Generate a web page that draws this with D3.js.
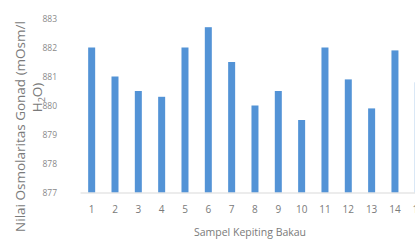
<!DOCTYPE html>
<html>
<head>
<meta charset="utf-8">
<script src="https://cdn.jsdelivr.net/npm/d3@7"></script>
<style>
  body { margin: 0; background: #fff; }
  text { font-family: "Open Sans", "Noto Sans", sans-serif; }
</style>
</head>
<body>
<div id="chart"></div>
<script>
// data
var samples = ["1","2","3","4","5","6","7","8","9","10","11","12","13","14","15"];
var osmo = [882.0, 881.0, 880.5, 880.3, 882.0, 882.7, 881.5, 880.0, 880.5, 879.5, 882.0, 880.9, 879.9, 881.9, 880.8];
var yTicks = [877, 878, 879, 880, 881, 882, 883];

var W = 415, H = 241;
var margin = {top: 18.5, left: 80, bottom: 48.5};

var svg = d3.select("#chart")
  .append("svg")
    .attr("width", W)
    .attr("height", H);

// band scale runs a bit past the right edge, like the cropped original
var x = d3.scaleBand()
  .domain(samples)
  .range([margin.left, margin.left + 15 * 23.33])
  .paddingInner(0.7)
  .paddingOuter(0.35);

var y = d3.scaleLinear()
  .domain([877, 883])
  .range([H - margin.bottom, margin.top]);

// y axis labels
var yAxis = svg.append("g")
  .attr("transform", "translate(" + (margin.left - 20) + ",0)")
  .call(d3.axisLeft(y).tickValues(yTicks).tickSize(0).tickFormat(d3.format("d")));
yAxis.select(".domain").remove();
yAxis.selectAll("text")
  .attr("fill", "#8a8a8a")
  .style("font-size", "8.5px");

// bars
svg.selectAll(".bar")
  .data(osmo)
  .enter().append("rect")
    .attr("class", "bar")
    .attr("x", function(d, i) { return x(samples[i]); })
    .attr("width", x.bandwidth())
    .attr("y", function(d) { return y(d); })
    .attr("height", function(d) { return y(877) - y(d); })
    .attr("fill", "#5393d6");

// x axis
var xAxis = svg.append("g")
  .attr("transform", "translate(0," + y(877) + ")")
  .call(d3.axisBottom(x).tickSize(0).tickPadding(13));
xAxis.select(".domain")
  .attr("stroke", "#d9d9d9")
  .attr("stroke-width", 1.2);
xAxis.selectAll("text")
  .attr("fill", "#7a7a7a")
  .style("font-size", "10px");

// axis titles
svg.append("text")
  .attr("x", 250)
  .attr("y", 236)
  .attr("text-anchor", "middle")
  .attr("fill", "#7a7a7a")
  .style("font-size", "10.5px")
  .text("Sampel Kepiting Bakau");

var yTitle = svg.append("text")
  .attr("transform", "translate(25,126.5) rotate(-90)")
  .attr("text-anchor", "middle")
  .attr("fill", "#7a7a7a")
  .style("font-size", "13.5px");
yTitle.append("tspan")
  .attr("x", 0)
  .attr("y", 0)
  .text("Nilai Osmolaritas Gonad (mOsm/l");
var l2 = yTitle.append("tspan")
  .attr("x", 29)
  .attr("dy", 16.5)
  .text("H");
l2.append("tspan").attr("dy", 3).style("font-size", "9px").text("2");
l2.append("tspan").attr("dy", -3).text("O)");
</script>
</body>
</html>
